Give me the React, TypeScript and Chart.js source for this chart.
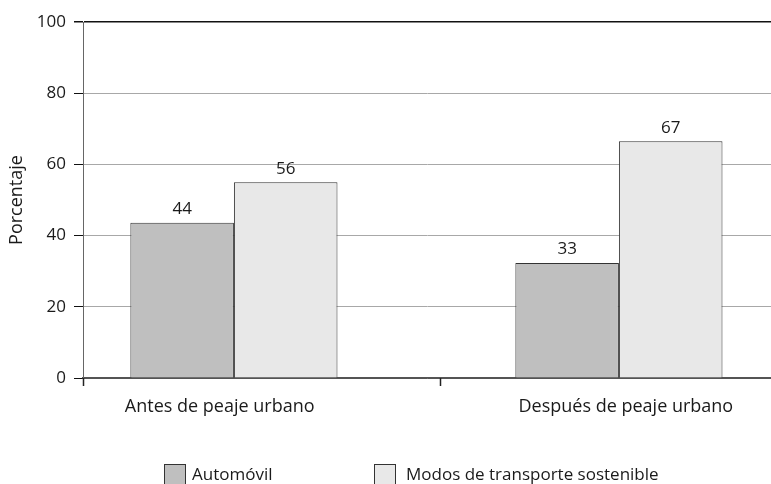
import React, { useEffect, useRef } from "react";
import { Chart, registerables } from "chart.js";

Chart.register(...registerables);

const categories = ["Antes de peaje urbano", "Después de peaje urbano"];
const seriesNames = ["Automóvil", "Modos de transporte sostenible"];
const autoValues = [43.6, 32.3];
const sustainableValues = [55, 66.5];
const autoLabels = ["44", "33"];
const sustainableLabels = ["56", "67"];
const yTicks = [0, 20, 40, 60, 80, 100];

const FONT = "'Open Sans', 'DejaVu Sans', sans-serif";
const COLORS = ["#bfbfbf", "#e8e8e8"];
const X_MIN = -0.392;
const X_MAX = 1.395;
const LABEL_SHIFT = [-0.037, 0.018];

export default function App() {
  const ref = useRef<HTMLCanvasElement | null>(null);
  useEffect(() => {
    document.body.style.margin = "0";
    const labelSets = [autoLabels, sustainableLabels];
    const valueLabels = {
      id: "valueLabels",
      afterDatasetsDraw(chart: any) {
        const ctx = chart.ctx;
        ctx.save();
        ctx.font = `17px ${FONT}`;
        ctx.fillStyle = "#1a1a1a";
        ctx.textAlign = "center";
        ctx.textBaseline = "bottom";
        chart.data.datasets.forEach((ds: any, i: number) => {
          const meta = chart.getDatasetMeta(i);
          meta.data.forEach((el: any, j: number) => {
            ctx.fillText(labelSets[i][j], el.x, el.y - 5);
          });
        });
        ctx.restore();
      },
    };
    const axisTicks = {
      id: "axisTicks",
      afterDraw(chart: any) {
        const ctx = chart.ctx;
        const xs = chart.scales.x;
        const bottom = chart.chartArea.bottom;
        ctx.save();
        ctx.strokeStyle = "#222";
        ctx.lineWidth = 1.5;
        const positions = [chart.chartArea.left, xs.getPixelForValue(0.535)];
        positions.forEach((p: number) => {
          ctx.beginPath();
          ctx.moveTo(Math.round(p) + 0.5, bottom);
          ctx.lineTo(Math.round(p) + 0.5, bottom + 8);
          ctx.stroke();
        });
        ctx.restore();
      },
    };
    const customLegend = {
      id: "customLegend",
      afterDraw(chart: any) {
        const ctx = chart.ctx;
        ctx.save();
        ctx.font = `17px ${FONT}`;
        ctx.textBaseline = "middle";
        ctx.textAlign = "left";
        const starts = [164, 374];
        const textGap = [28, 32];
        const y = 474;
        chart.data.datasets.forEach((ds: any, i: number) => {
          const x = starts[i];
          ctx.fillStyle = ds.backgroundColor;
          ctx.fillRect(x, y - 10, 21, 21);
          ctx.strokeStyle = "#333";
          ctx.lineWidth = 1;
          ctx.strokeRect(x + 0.5, y - 9.5, 21, 21);
          ctx.fillStyle = "#1a1a1a";
          ctx.fillText(ds.label, x + textGap[i], y + 1);
        });
        ctx.restore();
      },
    };
    const chart = new Chart(ref.current!, {
      type: "bar",
      data: {
        datasets: [
          {
            label: seriesNames[0],
            data: autoValues.map((v, i) => ({ x: i, y: v })),
            backgroundColor: COLORS[0],
            borderColor: "#333",
            borderWidth: 1,
            categoryPercentage: 0.538,
            barPercentage: 1,
          },
          {
            label: seriesNames[1],
            data: sustainableValues.map((v, i) => ({ x: i, y: v })),
            backgroundColor: COLORS[1],
            borderColor: "#333",
            borderWidth: 1,
            categoryPercentage: 0.538,
            barPercentage: 1,
          },
        ],
      },
      options: {
        animation: false,
        responsive: false,
        layout: { padding: { top: 22, bottom: 61, right: 0, left: 0 } },
        plugins: {
          legend: { display: false },
          tooltip: { enabled: false },
        },
        scales: {
          x: {
            type: "linear",
            offset: false,
            min: X_MIN,
            max: X_MAX,
            afterBuildTicks(scale: any) {
              scale.ticks = categories.map((_, i) => ({ value: i + LABEL_SHIFT[i] }));
            },
            grid: { display: false, drawTicks: false, offset: false },
            border: { color: "#555", width: 1.5 },
            ticks: {
              font: { family: FONT, size: 18 },
              color: "#1a1a1a",
              padding: 18,
              callback: (_v: any, idx: number) => categories[idx] ?? "",
            },
            afterFit(scale: any) {
              scale.height = 45;
            },
          },
          y: {
            min: 0,
            max: 100,
            afterBuildTicks(scale: any) {
              scale.ticks = yTicks.map((v) => ({ value: v }));
            },
            grid: {
              color: (c: any) =>
                c.tick && c.tick.value === 100 ? "#111" : c.tick && c.tick.value === 0 ? "#555" : "#a8a8a8",
              lineWidth: (c: any) => (c.tick && c.tick.value === 100 ? 1.5 : 1),
              tickLength: 9,
              tickColor: "#111",
            },
            border: { color: "#666", width: 1 },
            ticks: {
              font: { family: FONT, size: 17 },
              color: "#1a1a1a",
              padding: 8,
            },
            title: {
              display: true,
              text: "Porcentaje",
              font: { family: FONT, size: 18 },
              color: "#1a1a1a",
              padding: { top: 6, bottom: 0 },
            },
            afterFit(scale: any) {
              scale.width = 83;
            },
          },
        },
      },
      plugins: [valueLabels, axisTicks, customLegend],
    });
    return () => chart.destroy();
  }, []);
  return <canvas ref={ref} width={771} height={484} style={{ display: "block" }} />;
}
